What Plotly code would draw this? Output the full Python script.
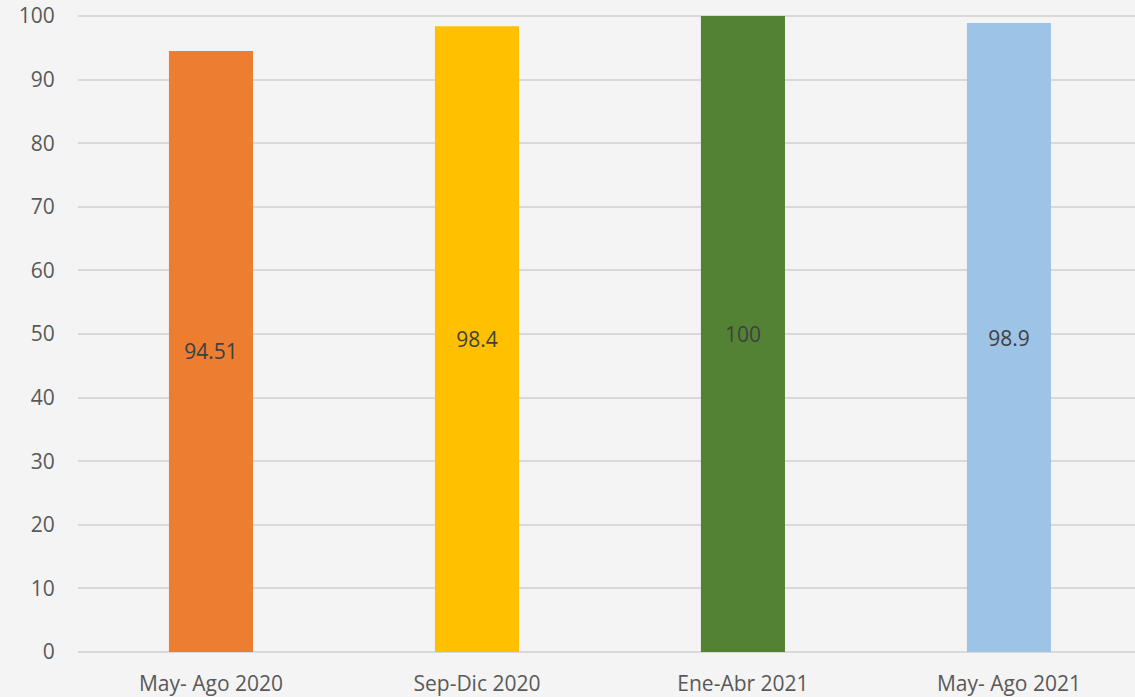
import plotly.graph_objects as go

categories = ["May- Ago 2020", "Sep-Dic 2020", "Ene-Abr 2021", "May- Ago 2021"]
values = [94.51, 98.4, 100, 98.9]
labels = ["94.51", "98.4", "100", "98.9"]
colors = ["#ED7D31", "#FFC000", "#548235", "#9DC3E6"]

fig = go.Figure(go.Bar(
    x=categories, y=values, text=labels,
    marker=dict(color=colors, line=dict(width=0)),
    width=0.316,
    textposition="inside", insidetextanchor="middle",
    textfont=dict(family="Open Sans, Lato, sans-serif", size=21, color="#404040"),
    textangle=0,
))

fig.update_layout(
    width=1135, height=697,
    margin=dict(l=78, r=0, t=14, b=45),
    paper_bgcolor="#f4f4f4", plot_bgcolor="#f4f4f4",
    showlegend=False,
    font=dict(family="Open Sans, Lato, sans-serif", size=21, color="#595959"),
    xaxis=dict(range=[-0.5, 3.474], showgrid=False, showline=False, zeroline=False,
               ticks="outside", ticklen=13, tickcolor="rgba(0,0,0,0)", automargin=False,
               tickfont=dict(size=21, color="#595959")),
    yaxis=dict(range=[0, 100.3145], dtick=10,
               showgrid=True, gridcolor="#d9d9d9", gridwidth=1.5,
               zeroline=True, zerolinecolor="#d9d9d9", zerolinewidth=1.5, automargin=False,
               showline=False, ticks="outside", ticklen=18, tickcolor="rgba(0,0,0,0)",
               tickfont=dict(size=21, color="#595959")),
)

fig.write_html("out.html", config={"displayModeBar": False},
               post_script="document.body.style.margin='0';document.body.style.background='#f4f4f4';")
